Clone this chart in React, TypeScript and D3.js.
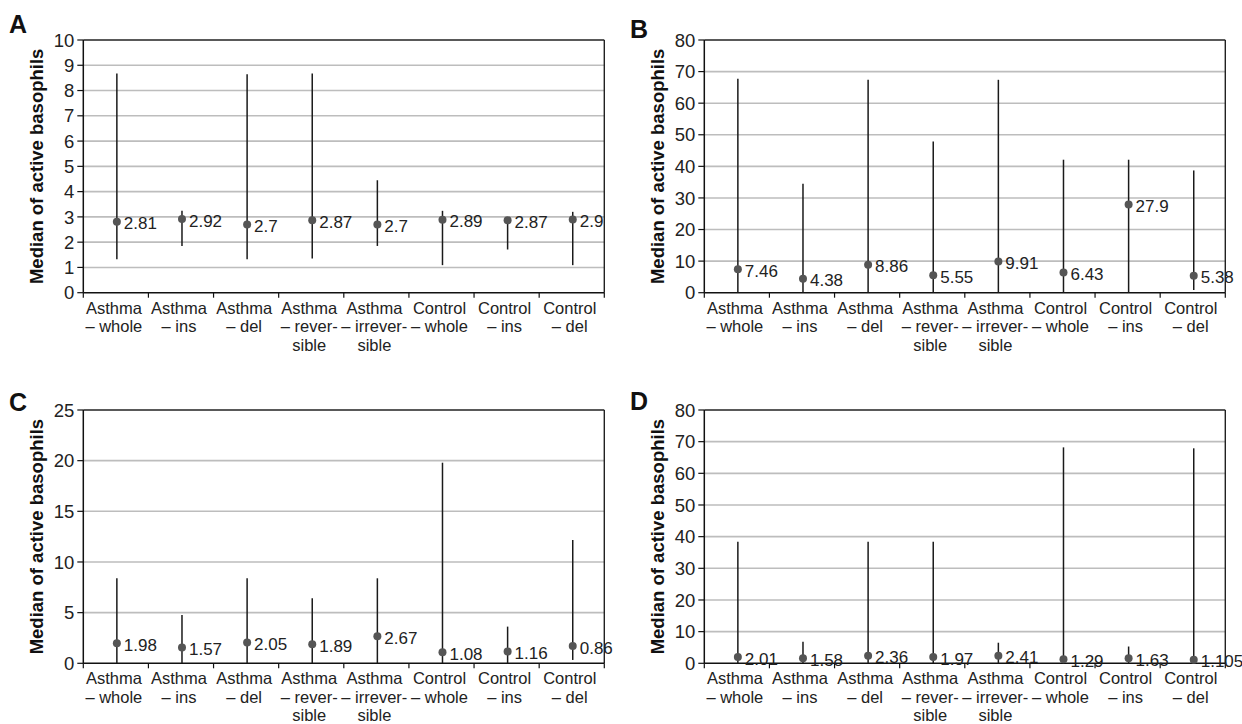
import React from 'react';
import * as d3 from 'd3';

const categories = [
  ['Asthma', '– whole'],
  ['Asthma', '– ins'],
  ['Asthma', '– del'],
  ['Asthma', '– rever-', 'sible'],
  ['Asthma', '– irrever-', 'sible'],
  ['Control', '– whole'],
  ['Control', '– ins'],
  ['Control', '– del'],
];

// panel A
const medianA = [2.81, 2.92, 2.7, 2.87, 2.7, 2.89, 2.87, 2.9];
const lowA = [1.32, 1.85, 1.32, 1.35, 1.85, 1.09, 1.71, 1.09];
const highA = [8.67, 3.24, 8.64, 8.67, 4.45, 3.24, 2.98, 3.2];
const labelA = ['2.81', '2.92', '2.7', '2.87', '2.7', '2.89', '2.87', '2.9'];
const ticksA = [0, 1, 2, 3, 4, 5, 6, 7, 8, 9, 10];

// panel B
const medianB = [7.46, 4.38, 8.86, 5.55, 9.91, 6.43, 27.9, 5.38];
const lowB = [0, 0, 0, 0, 0, 0, 0, 0.85];
const highB = [67.7, 34.5, 67.4, 47.9, 67.4, 42.1, 42.1, 38.7];
const labelB = ['7.46', '4.38', '8.86', '5.55', '9.91', '6.43', '27.9', '5.38'];
const ticksB = [0, 10, 20, 30, 40, 50, 60, 70, 80];

// panel C
const medianC = [1.98, 1.57, 2.05, 1.89, 2.67, 1.08, 1.16, 1.7];
const lowC = [0, 0, 0, 0, 0, 0, 0, 0.33];
const highC = [8.39, 4.77, 8.39, 6.42, 8.39, 19.8, 3.62, 12.17];
const labelC = ['1.98', '1.57', '2.05', '1.89', '2.67', '1.08', '1.16', '0.86'];
const ticksC = [0, 5, 10, 15, 20, 25];

// panel D
const medianD = [2.01, 1.58, 2.36, 1.97, 2.41, 1.29, 1.63, 1.105];
const lowD = [0, 0, 0, 0, 0, 0, 0, 0];
const highD = [38.4, 6.8, 38.4, 38.4, 6.5, 68.2, 5.3, 67.9];
const labelD = ['2.01', '1.58', '2.36', '1.97', '2.41', '1.29', '1.63', '1.105'];
const ticksD = [0, 10, 20, 30, 40, 50, 60, 70, 80];

const FONT = "'Liberation Sans', Arial, sans-serif";

function Panel({ letter, lx, ly, x0, x1, y0, y1, median, low, high, labels, ticks }) {
  const x = d3
    .scaleBand()
    .domain(categories.map((d, i) => String(i)))
    .range([x0, x1])
    .padding(0);
  const y = d3
    .scaleLinear()
    .domain([ticks[0], ticks[ticks.length - 1]])
    .range([y1, y0]);
  const bw = x.bandwidth();
  const boundaries = categories.map((d, i) => x(String(i))).concat([x1]);

  return (
    <g>
      <text x={lx} y={ly} fontSize={25} fontWeight="bold" fontFamily={FONT} fill="#111">
        {letter}
      </text>
      {/* grid */}
      {ticks.slice(1, -1).map((t) => (
        <line key={t} x1={x0} x2={x1} y1={y(t)} y2={y(t)} stroke="#bdbdbd" strokeWidth={1.6} />
      ))}
      {/* frame */}
      <line x1={x0} x2={x1} y1={y0} y2={y0} stroke="#222" strokeWidth={1.5} />
      <line x1={x1} x2={x1} y1={y0} y2={y1} stroke="#222" strokeWidth={1.4} />
      <line x1={x0} x2={x0} y1={y0} y2={y1} stroke="#111" strokeWidth={1.5} />
      <line x1={x0} x2={x1} y1={y1} y2={y1} stroke="#111" strokeWidth={1.5} />
      {/* y ticks */}
      {ticks.map((t) => (
        <g key={t}>
          <line x1={x0 - 6} x2={x0} y1={y(t)} y2={y(t)} stroke="#111" strokeWidth={1.2} />
          <text x={x0 - 9} y={y(t)} dy="0.36em" textAnchor="end" fontSize={18.5} fontFamily={FONT} fill="#222">
            {t}
          </text>
        </g>
      ))}
      {/* x ticks */}
      {boundaries.map((b, i) => (
        <line key={i} x1={b} x2={b} y1={y1} y2={y1 + 5} stroke="#111" strokeWidth={1.2} />
      ))}
      {categories.map((lines, i) => (
        <text key={i} x={x(String(i)) + bw / 2 - 2} y={y1 + 21} textAnchor="middle" fontSize={16.5} fontFamily={FONT} fill="#222">
          {lines.map((l, j) => (
            <tspan key={j} x={x(String(i)) + bw / 2 - 2} dy={j === 0 ? 0 : 18.5}>
              {l}
            </tspan>
          ))}
        </text>
      ))}
      {/* whiskers and medians */}
      {median.map((m, i) => {
        const cx = x(String(i)) + bw / 2 + 1;
        return (
          <g key={i}>
            <line x1={cx} x2={cx} y1={y(low[i])} y2={y(high[i])} stroke="#1a1a1a" strokeWidth={1.5} />
            <circle cx={cx} cy={y(m)} r={4} fill="#555" />
            <text x={cx + 7} y={y(m) + 1.5} dy="0.36em" fontSize={17} fontFamily={FONT} fill="#222">
              {labels[i]}
            </text>
          </g>
        );
      })}
      {/* y title */}
      <text
        transform={`translate(${x0 - 47},${(y0 + y1) / 2}) rotate(-90)`}
        dy="0.36em"
        textAnchor="middle"
        fontSize={18.5}
        fontWeight="bold"
        fontFamily={FONT}
        fill="#111"
      >
        Median of active basophils
      </text>
    </g>
  );
}

export default function App() {
  return (
    <svg
      width={1242}
      height={724}
      style={{ position: 'absolute', left: 0, top: 0, background: '#fff' }}
    >
      <rect width={1242} height={724} fill="#fff" />
      <Panel letter="A" lx={9} ly={33} x0={83.3} x1={604.3} y0={40} y1={292.7} median={medianA} low={lowA} high={highA} labels={labelA} ticks={ticksA} />
      <Panel letter="B" lx={630} ly={38} x0={704.3} x1={1225.3} y0={40} y1={292.7} median={medianB} low={lowB} high={highB} labels={labelB} ticks={ticksB} />
      <Panel letter="C" lx={9} ly={411} x0={83.3} x1={604.3} y0={410} y1={663.3} median={medianC} low={lowC} high={highC} labels={labelC} ticks={ticksC} />
      <Panel letter="D" lx={630} ly={410} x0={704.3} x1={1225.3} y0={410} y1={663.3} median={medianD} low={lowD} high={highD} labels={labelD} ticks={ticksD} />
    </svg>
  );
}
